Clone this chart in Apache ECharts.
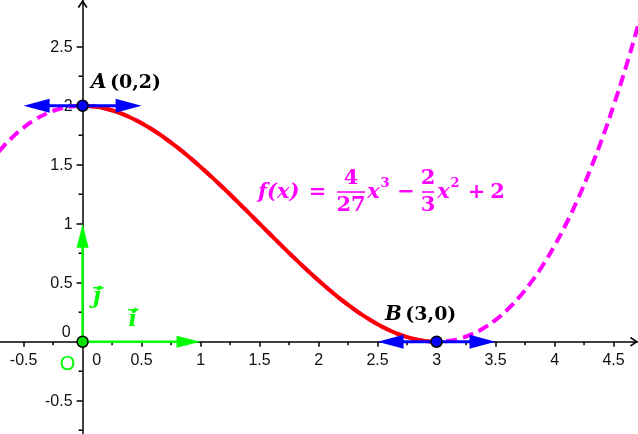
<!DOCTYPE html>
<html><head><meta charset="utf-8">
<script src="https://cdn.jsdelivr.net/npm/echarts@6/dist/echarts.min.js"></script>
<style>html,body{margin:0;padding:0;background:#fff}#c{width:638px;height:434px}</style>
</head><body><div id="c"></div>
<script>
// f(x) = 4/27 x^3 - 2/3 x^2 + 2, values read/evaluated at sample points
const curveX = [-0.8,-0.7,-0.6,-0.5,-0.4,-0.3,-0.2,-0.1,0,0.1,0.2,0.3,0.4,0.5,0.6,0.7,0.8,0.9,1.0,1.1,1.2,1.3,1.4,1.5,1.6,1.7,1.8,1.9,2.0,2.1,2.2,2.3,2.4,2.5,2.6,2.7,2.8,2.9,3.0,3.1,3.2,3.3,3.4,3.5,3.6,3.7,3.8,3.9,4.0,4.1,4.2,4.3,4.4,4.5,4.6,4.7,4.8];
const curveY = [1.4975,1.6225,1.728,1.8148,1.8839,1.936,1.9721,1.9932,2,1.9935,1.9745,1.944,1.9028,1.8519,1.792,1.7241,1.6492,1.568,1.4815,1.3905,1.296,1.1988,1.0999,1.0,0.9001,0.8012,0.704,0.6095,0.5185,0.432,0.3508,0.2759,0.208,0.1481,0.0972,0.056,0.0255,0.0065,0,0.0068,0.0279,0.064,0.1161,0.1852,0.272,0.3775,0.5025,0.648,0.8148,1.0039,1.216,1.4521,1.7132,2.0,2.3134,2.6545,3.024];
const solidRange = [0, 3];
const tangents = [[-0.5, 2, 0.5, 2], [2.5, 0, 3.5, 0]];
const vectors = [[0, 0, 1, 0], [0, 0, 0, 1]];
const bluePoints = [[0, 2], [3, 0]];
const originPoint = [[0, 0]];
const xLabelValues = [-0.5, 0.5, 1, 1.5, 2, 2.5, 3, 3.5, 4, 4.5];
const xLabelTexts = ['-0.5', '0.5', '1', '1.5', '2', '2.5', '3', '3.5', '4', '4.5'];
const yLabelValues = [-0.5, 0.5, 1, 1.5, 2, 2.5];
const yLabelTexts = ['-0.5', '0.5', '1', '1.5', '2', '2.5'];
const xMajorTicks = [-0.5, 0.5, 1, 1.5, 2, 2.5, 3, 3.5, 4, 4.5];
const xMinorTicks = [-0.25, 0.25, 0.75, 1.25, 1.75, 2.25, 2.75, 3.25, 3.75, 4.25];
const yMajorTicks = [-0.5, 0.5, 1, 1.5, 2, 2.5];
const yMinorTicks = [-0.75, -0.25, 0.25, 0.75, 1.25, 1.75, 2.25];
const annotationAnchors = [[0, 2], [3, 0], [1.5, 1.25], [0, 0.5], [0.5, 0], [0, 0]];
const labelA = ['A', '(0,2)'];
const labelB = ['B', '(3,0)'];

const allPts = curveX.map((x, i) => [x, curveY[i]]);
const solidPts = allPts.filter(p => p[0] >= solidRange[0] && p[0] <= solidRange[1]);

const SERIF = 'DejaVu Serif';
const SANS = 'Liberation Sans';
const MAG = '#FF00FF';
const TICKC = '#111';
const chevron = 'path://M0,7 L5,0 L10,7 L8.5,7.9 L5,2.7 L1.5,7.9 Z';

function head(tip, from, len, hw, color) {
  const dx = tip[0] - from[0], dy = tip[1] - from[1];
  const d = Math.hypot(dx, dy) || 1; const ux = dx / d, uy = dy / d;
  const bx = tip[0] - ux * len, by = tip[1] - uy * len;
  return { type: 'polygon', shape: { points: [tip, [bx - uy * hw, by + ux * hw], [bx + uy * hw, by - ux * hw]] }, style: { fill: color } };
}
function shorten(p, q, s) {
  const dx = q[0] - p[0], dy = q[1] - p[1]; const d = Math.hypot(dx, dy) || 1;
  return [q[0] - dx / d * s, q[1] - dy / d * s];
}
function txt(x, y, text, font, color, align) {
  return { type: 'text', x: x, y: y, style: { text: text, font: font, fill: color, align: align || 'center', verticalAlign: 'middle' } };
}
function vecArrow(cx, cy, color) {
  return [
    { type: 'line', shape: { x1: cx - 5, y1: cy, x2: cx + 3, y2: cy }, style: { stroke: color, lineWidth: 1.5 } },
    { type: 'polygon', shape: { points: [[cx + 6, cy], [cx + 1, cy - 2.5], [cx + 1, cy + 2.5]] }, style: { fill: color } }
  ];
}

const chart = echarts.init(document.getElementById('c'), null, { renderer: 'canvas' });
chart.setOption({
  animation: false,
  backgroundColor: '#fff',
  grid: { left: 0, right: 0, top: 0, bottom: 0, containLabel: false, outerBoundsMode: 'none' },
  xAxis: {
    type: 'value', min: -0.7, max: 4.707,
    axisLine: { onZero: true, lineStyle: { color: '#000', width: 1.5 }, symbol: ['none', chevron], symbolSize: [10, 7.9], symbolOffset: [0, -4] },
    axisTick: { show: true, customValues: xMajorTicks, length: 5, lineStyle: { color: '#000', width: 1.5 } },
    axisLabel: { show: false },
    splitLine: { show: false }
  },
  yAxis: {
    type: 'value', min: -0.782, max: 2.896,
    axisLine: { onZero: true, lineStyle: { color: '#000', width: 1.5 }, symbol: ['none', chevron], symbolSize: [10, 7.9], symbolOffset: [0, -4] },
    axisTick: { show: true, customValues: yMajorTicks, length: 6, lineStyle: { color: '#000', width: 1.5 } },
    axisLabel: { show: false },
    splitLine: { show: false }
  },
  series: [
    { type: 'custom', z: 1, data: xMinorTicks.map(v => [v, 0]), encode: { x: 0, y: 1 }, silent: true,
      renderItem: (params, api) => { const p = api.coord([api.value(0), 0]);
        return { type: 'line', shape: { x1: p[0], y1: p[1], x2: p[0], y2: p[1] + 3.5 }, style: { stroke: '#000', lineWidth: 1.5 } }; } },
    { type: 'custom', z: 1, data: yMinorTicks.map(v => [0, v]), encode: { x: 0, y: 1 }, silent: true,
      renderItem: (params, api) => { const p = api.coord([0, api.value(1)]);
        return { type: 'line', shape: { x1: p[0], y1: p[1], x2: p[0] - 4, y2: p[1] }, style: { stroke: '#000', lineWidth: 1.5 } }; } },
    { type: 'custom', z: 1, data: xLabelValues.map(v => [v, 0]), encode: { x: 0, y: 1 }, silent: true,
      renderItem: (params, api) => { const p = api.coord([api.value(0), 0]);
        return txt(p[0], p[1] + 18.5, xLabelTexts[params.dataIndex], '16px "' + SANS + '"', TICKC); } },
    { type: 'custom', z: 1, data: yLabelValues.map(v => [0, v]), encode: { x: 0, y: 1 }, silent: true,
      renderItem: (params, api) => { const p = api.coord([0, api.value(1)]);
        return txt(p[0] - 10, p[1] + 0.5, yLabelTexts[params.dataIndex], '16px "' + SANS + '"', TICKC, 'right'); } },
    { type: 'line', z: 2, data: allPts, showSymbol: false, smooth: true, silent: true,
      lineStyle: { color: MAG, width: 4, type: [11, 6] } },
    { type: 'line', z: 3, data: solidPts, showSymbol: false, smooth: true, silent: true,
      lineStyle: { color: '#FF0000', width: 4 } },
    { type: 'custom', z: 4, data: tangents, encode: { x: [0, 2], y: [1, 3] }, silent: true,
      renderItem: (params, api) => {
        const p1 = api.coord([api.value(0), api.value(1)]); const p2 = api.coord([api.value(2), api.value(3)]);
        const a = shorten(p2, p1, 10), b = shorten(p1, p2, 10);
        return { type: 'group', children: [
          { type: 'line', shape: { x1: a[0], y1: a[1], x2: b[0], y2: b[1] }, style: { stroke: '#0000FF', lineWidth: 3 } },
          head(p1, p2, 26, 7, '#0000FF'), head(p2, p1, 26, 7, '#0000FF') ] };
      } },
    { type: 'custom', z: 4, data: vectors, encode: { x: [0, 2], y: [1, 3] }, silent: true,
      renderItem: (params, api) => {
        const p1 = api.coord([api.value(0), api.value(1)]); const p2 = api.coord([api.value(2), api.value(3)]);
        const b = shorten(p1, p2, 10);
        return { type: 'group', children: [
          { type: 'line', shape: { x1: p1[0], y1: p1[1], x2: b[0], y2: b[1] }, style: { stroke: '#00FF00', lineWidth: 2.5 } },
          head(p2, p1, 24, 6, '#00FF00') ] };
      } },
    { type: 'scatter', z: 5, data: bluePoints, symbolSize: 11, silent: true,
      itemStyle: { color: '#0000FF', borderColor: '#000', borderWidth: 1.5, opacity: 1 } },
    { type: 'scatter', z: 5, data: originPoint, symbolSize: 11, silent: true,
      itemStyle: { color: '#00E000', borderColor: '#000', borderWidth: 1.5, opacity: 1 } },
    { type: 'custom', z: 6, data: annotationAnchors, encode: { x: 0, y: 1 }, silent: true,
      renderItem: (params, api) => {
        const p = api.coord([api.value(0), api.value(1)]);
        const i = params.dataIndex;
        const bi = 'italic bold 22px "' + SERIF + '"';
        const rich = { a: { fontFamily: SERIF, fontStyle: 'italic', fontWeight: 'bold', fontSize: 20, fill: '#000' },
                       b: { fontFamily: SERIF, fontWeight: 'bold', fontSize: 19, fill: '#000' } };
        if (i === 0 || i === 1) {
          const L = i === 0 ? labelA : labelB;
          const off = i === 0 ? [8.5, -23] : [-51.5, -27];
          return { type: 'text', x: p[0] + off[0], y: p[1] + off[1],
            style: { text: '{a|' + L[0] + '} {b|' + L[1] + '}', rich: rich, align: 'left', verticalAlign: 'middle' } };
        }
        if (i === 2) {
          const fi = 'italic bold 21px "' + SERIF + '"', fn = 'bold 21px "' + SERIF + '"', fs = 'bold 13px "' + SERIF + '"';
          const ch = [
            txt(-1.5, -2, 'f(x)', fi, MAG, 'left'),
            txt(58, -2, '=', fn, MAG),
            { type: 'rect', shape: { x: 77.5, y: -3, width: 28, height: 1.6 }, style: { fill: MAG } },
            txt(91.5, -15.5, '4', fn, MAG), txt(91.5, 11, '27', fn, MAG),
            txt(114, -2, 'x', fi, MAG), txt(125.5, -11, '3', fs, MAG),
            txt(146.5, -2, '\u2212', fn, MAG),
            { type: 'rect', shape: { x: 162.5, y: -3, width: 12, height: 1.6 }, style: { fill: MAG } },
            txt(168.5, -15.5, '2', fn, MAG), txt(168.5, 11, '3', fn, MAG),
            txt(184, -2, 'x', fi, MAG), txt(195.5, -11, '2', fs, MAG),
            txt(217, -2, '+', fn, MAG), txt(238, -2, '2', fn, MAG)
          ];
          return { type: 'group', x: p[0], y: p[1], children: ch };
        }
        if (i === 3) {
          return { type: 'group', x: p[0], y: p[1], children: [txt(14.5, 15, 'j', bi, '#00FF00')].concat(vecArrow(15.5, 5, '#00FF00')) };
        }
        if (i === 4) {
          return { type: 'group', x: p[0], y: p[1], children: [txt(-9, -21, 'i', bi, '#00FF00')].concat(vecArrow(-8.5, -32, '#00FF00')) };
        }
        return { type: 'group', x: p[0], y: p[1], children: [
          txt(-15, 23, 'O', '20px "' + SANS + '"', '#00FF00'),
          txt(14, 18.5, '0', '16px "' + SANS + '"', TICKC),
          txt(-16.5, -9, '0', '16px "' + SANS + '"', TICKC)
        ] };
      } }
  ]
});
</script></body></html>
